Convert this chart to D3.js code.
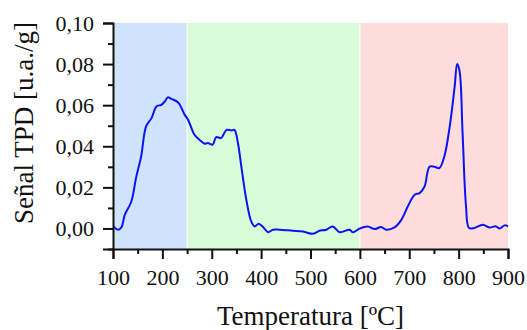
<!DOCTYPE html>
<html>
<head>
<meta charset="utf-8">
<script src="https://cdn.jsdelivr.net/npm/d3@7"></script>
<style>
  body { margin: 0; background: #ffffff; }
  svg text { font-family: "Liberation Serif", "DejaVu Serif", serif; fill: #111; }
</style>
</head>
<body>
<script>
const width = 527;
const height = 330;
const margin = { top: 23, right: 19, bottom: 81, left: 113 };
const innerWidth = width - margin.left - margin.right;
const innerHeight = height - margin.top - margin.bottom;

// temperature regions shaded behind the curve
const regionStart = [100, 250, 600];
const regionEnd = [250, 600, 900];
const regionColor = ["#cfe4fc", "#d8fbd8", "#fddcdc"];

// TPD signal
const temperature = [101, 110, 117, 124, 137, 147, 157, 167, 178, 188, 198, 205, 211, 218, 232, 245,
  252, 265, 275, 286, 292, 302, 309, 319, 330, 340, 346, 353, 360, 370, 380, 387, 395, 404, 414,
  424, 437, 464, 485, 505, 515, 518, 532, 545, 559, 579, 586, 599, 616, 630, 643, 653, 670, 684,
  697, 711, 721, 731, 741, 751, 761, 771, 782, 792, 797, 802, 808, 815, 821, 832, 849, 862, 876,
  883, 893, 900];
const signal = [0.001, -0.0006, 0.0005, 0.0067, 0.013, 0.025, 0.035, 0.0497, 0.0537, 0.0594, 0.0602,
  0.0618, 0.0638, 0.0631, 0.0613, 0.0554, 0.0529, 0.0456, 0.0432, 0.0412, 0.0416, 0.0408, 0.0445,
  0.044, 0.048, 0.0477, 0.048, 0.0416, 0.030, 0.014, 0.0034, 0.001, 0.0023, 0.0007, -0.0018,
  -0.0006, -0.0006, -0.0011, -0.0015, -0.0026, -0.0015, -0.0011, -0.0006, 0.001, -0.0018, -0.0006,
  -0.0019, -0.0001, 0.001, -0.0003, 0.0007, -0.0006, 0.0005, 0.0042, 0.0107, 0.0164, 0.0172,
  0.0204, 0.030, 0.030, 0.0294, 0.035, 0.0497, 0.0691, 0.080, 0.0764, 0.0464, 0.0107, 0.0002,
  0.0002, 0.0018, 0.0005, 0.001, 0, 0.0015, 0.001];

const xTicks = [100, 200, 300, 400, 500, 600, 700, 800, 900];
const xMinorTicks = [150, 250, 350, 450, 550, 650, 750, 850];
const yTicks = [0, 0.02, 0.04, 0.06, 0.08, 0.10];
const yMinorTicks = [-0.01, 0.01, 0.03, 0.05, 0.07, 0.09];

const xLabel = "Temperatura [ºC]";
const yLabel = "Señal TPD [u.a./g]";

const lineColor = "#0a14f0";
const serif = "'Liberation Serif', 'DejaVu Serif', serif";

const esFormat = d3.formatLocale({ decimal: ",", thousands: ".", grouping: [3], currency: ["", "€"] }).format(".2f");

const xScale = d3.scaleLinear().domain([100, 900]).range([0, innerWidth]);
const yScale = d3.scaleLinear().domain([-0.01, 0.10]).range([innerHeight, 0]);

const svg = d3.select("body").append("svg")
    .attr("width", width)
    .attr("height", height);

const g = svg.append("g")
    .attr("transform", `translate(${margin.left},${margin.top})`);

// shaded bands
g.selectAll("rect.region")
  .data(regionStart)
  .join("rect")
    .attr("class", "region")
    .attr("x", (d, i) => xScale(d))
    .attr("width", (d, i) => xScale(regionEnd[i]) - xScale(d))
    .attr("y", 0)
    .attr("height", innerHeight)
    .attr("fill", (d, i) => regionColor[i]);

// white separators between bands
g.selectAll("line.sep")
  .data([250, 600])
  .join("line")
    .attr("class", "sep")
    .attr("x1", d => xScale(d)).attr("x2", d => xScale(d))
    .attr("y1", 0).attr("y2", innerHeight)
    .attr("stroke", "#ffffff")
    .attr("stroke-width", 1);

const line = d3.line()
    .x((d, i) => xScale(temperature[i]))
    .y(d => yScale(d))
    .curve(d3.curveCatmullRom.alpha(0.5));

g.append("path")
    .datum(signal)
    .attr("fill", "none")
    .attr("stroke", lineColor)
    .attr("stroke-width", 2)
    .attr("stroke-linejoin", "round")
    .attr("d", line);

// axes: majors with labels, minors without
g.append("g")
    .attr("class", "axis")
    .attr("transform", `translate(0,${innerHeight})`)
    .call(d3.axisBottom(xScale).tickValues(xTicks).tickSize(10).tickPadding(10).tickFormat(d3.format("d")));
g.append("g")
    .attr("class", "axis")
    .attr("transform", `translate(0,${innerHeight})`)
    .call(d3.axisBottom(xScale).tickValues(xMinorTicks).tickSize(5).tickFormat(""))
    .select(".domain").remove();

g.append("g")
    .attr("class", "axis")
    .call(d3.axisLeft(yScale).tickValues(yTicks).tickSize(10).tickPadding(9).tickFormat(esFormat));
g.append("g")
    .attr("class", "axis")
    .call(d3.axisLeft(yScale).tickValues(yMinorTicks).tickSize(5).tickFormat(""))
    .select(".domain").remove();

// d3 puts sans-serif on the axis groups, swap it for the serif face
g.selectAll(".axis")
    .attr("font-family", serif)
    .attr("font-size", 22);

g.selectAll(".domain").attr("stroke", "#111").attr("stroke-width", 2);
g.selectAll(".tick line").attr("stroke", "#111").attr("stroke-width", 2);
g.selectAll(".tick text")
    .style("font-family", serif)
    .style("font-size", "22px")
    .attr("fill", "#111");

// axis titles
svg.append("text")
    .attr("x", margin.left + innerWidth / 2)
    .attr("y", 325)
    .attr("text-anchor", "middle")
    .style("font-size", "27px")
    .text(xLabel);

svg.append("text")
    .attr("transform", `translate(33,${margin.top + 100}) rotate(-90)`)
    .attr("text-anchor", "middle")
    .style("font-size", "27px")
    .text(yLabel);
</script>
</body>
</html>
